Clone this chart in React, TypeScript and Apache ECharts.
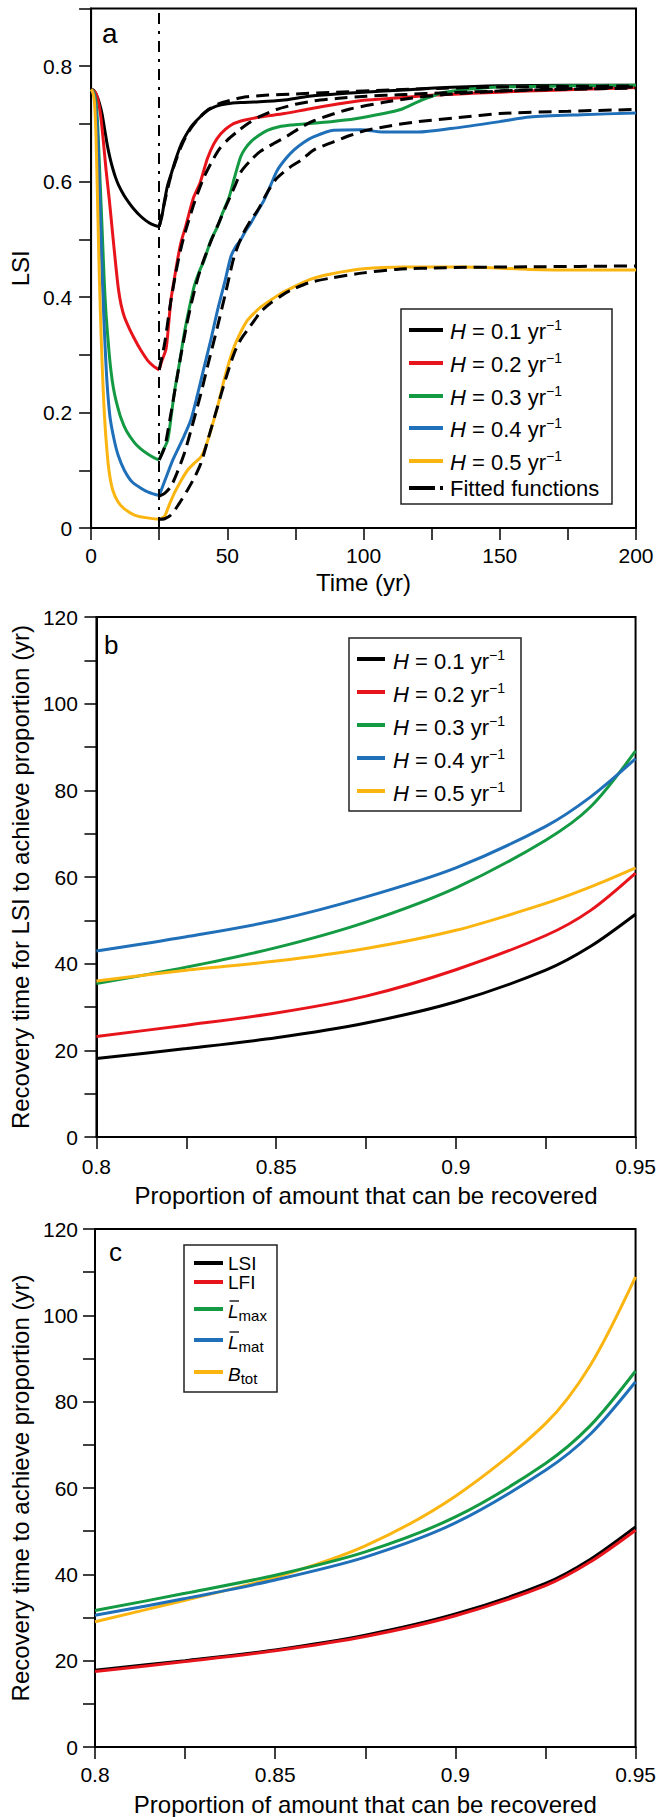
import { useEffect, useRef } from 'react';
import * as echarts from 'echarts';

const FONT = '"Liberation Sans", Arial, Helvetica, sans-serif';
const C_BLACK = '#000000';
const C_RED = '#e8141c';
const C_GREEN = '#139a43';
const C_BLUE = '#1f6fb9';
const C_YELLOW = '#fbb511';
const H_COLORS = [C_BLACK, C_RED, C_GREEN, C_BLUE, C_YELLOW];

// ---------- Panel a: LSI over time ----------
const timeTicks = ['0', '50', '100', '150', '200'];
const lsiTicks = ['0', '0.2', '0.4', '0.6', '0.8'];
const hValues = ['0.1', '0.2', '0.3', '0.4', '0.5'];
const fishingEnd = 25;

const h01Before = [[0, 0.76], [1, 0.758], [2, 0.75], [3, 0.737], [4, 0.718], [5, 0.69], [6, 0.662], [7, 0.64], [8, 0.622], [9, 0.607], [10, 0.595], [12, 0.577], [14, 0.563], [16, 0.551], [18, 0.541], [20, 0.533], [22, 0.527], [25, 0.522]];
const h01After = [[25, 0.522], [26, 0.54], [27, 0.568], [28, 0.592], [29.5, 0.615], [31, 0.638], [33, 0.664], [35, 0.682], [37, 0.697], [40, 0.712], [43, 0.724], [46, 0.731], [50, 0.735], [55, 0.737], [60, 0.738], [70, 0.741], [80, 0.748], [90, 0.752], [100, 0.755], [115, 0.759], [130, 0.763], [150, 0.766], [175, 0.767], [200, 0.767]];
const h01Fit = [[25, 0.522], [27, 0.565], [29, 0.605], [31, 0.635], [33, 0.66], [35, 0.68], [37, 0.695], [40, 0.712], [43, 0.725], [47, 0.735], [52, 0.742], [57, 0.747], [65, 0.75], [75, 0.752], [90, 0.755], [110, 0.759], [130, 0.762], [150, 0.764], [175, 0.765], [200, 0.766]];

const h02Before = [[0, 0.76], [1.5, 0.755], [2.5, 0.742], [3.5, 0.715], [4.5, 0.67], [5.5, 0.62], [6.7, 0.568], [7.9, 0.51], [9, 0.458], [10, 0.415], [11, 0.387], [12.2, 0.366], [14, 0.346], [16, 0.327], [18, 0.31], [20.8, 0.29], [23, 0.28], [25, 0.274]];
const h02After = [[25, 0.274], [26, 0.29], [27.5, 0.31], [28.5, 0.355], [29.3, 0.395], [30.5, 0.43], [31.7, 0.464], [33, 0.495], [34.8, 0.524], [37.5, 0.571], [40, 0.598], [42.7, 0.64], [45, 0.665], [47.6, 0.683], [51, 0.697], [55, 0.705], [62, 0.712], [71, 0.718], [80, 0.726], [90, 0.734], [100, 0.741], [112, 0.745], [126, 0.75], [140, 0.753], [160, 0.757], [180, 0.76], [200, 0.763]];
const h02Fit = [[25, 0.274], [27, 0.32], [29, 0.385], [31, 0.44], [33, 0.485], [35, 0.52], [38, 0.565], [41, 0.603], [44, 0.632], [47, 0.656], [50, 0.672], [54, 0.688], [58, 0.702], [62, 0.713], [68, 0.725], [75, 0.734], [82, 0.74], [90, 0.744], [101, 0.748], [115, 0.751], [130, 0.754], [150, 0.757], [175, 0.76], [200, 0.762]];

const h03Before = [[0, 0.76], [1, 0.755], [1.8, 0.738], [2.5, 0.69], [3.4, 0.59], [4.2, 0.5], [4.9, 0.42], [5.5, 0.37], [6.5, 0.31], [7.3, 0.272], [8.2, 0.242], [9.2, 0.22], [11, 0.19], [13, 0.168], [15.9, 0.148], [18, 0.138], [20.8, 0.128], [23, 0.122], [25, 0.118]];
const h03After = [[25, 0.118], [26.5, 0.135], [28.1, 0.152], [29.3, 0.19], [30.5, 0.233], [32.4, 0.285], [34.2, 0.337], [36, 0.38], [37.8, 0.418], [39.6, 0.443], [41.5, 0.464], [44, 0.499], [46.4, 0.522], [48.2, 0.545], [50.7, 0.574], [52.8, 0.61], [54.9, 0.643], [56.5, 0.657], [58.6, 0.669], [61.5, 0.68], [64.7, 0.689], [69, 0.695], [73.3, 0.698], [78, 0.7], [88, 0.704], [97, 0.709], [107.4, 0.718], [113.6, 0.725], [119.7, 0.738], [124, 0.746], [128.2, 0.753], [133, 0.757], [138, 0.76], [150, 0.764], [175, 0.766], [200, 0.767]];
const h03Fit = [[25, 0.118], [27, 0.14], [29, 0.19], [31, 0.245], [33, 0.3], [35, 0.35], [37, 0.393], [39, 0.43], [41, 0.46], [44, 0.497], [47, 0.53], [50, 0.563], [53, 0.595], [55, 0.617], [58.6, 0.637], [62, 0.652], [67, 0.666], [72, 0.679], [77, 0.694], [82, 0.706], [88, 0.716], [95, 0.726], [107, 0.737], [118, 0.745], [130, 0.751], [150, 0.757], [175, 0.761], [200, 0.764]];

const h04Before = [[0, 0.76], [1, 0.752], [1.8, 0.725], [2.4, 0.68], [3, 0.6], [3.7, 0.49], [4.3, 0.41], [4.9, 0.34], [5.5, 0.28], [6.1, 0.235], [7, 0.19], [8.5, 0.152], [10, 0.125], [12.2, 0.1], [15, 0.08], [18.3, 0.069], [21, 0.062], [25, 0.056]];
const h04After = [[25, 0.056], [26.5, 0.075], [28.1, 0.095], [30, 0.118], [31.7, 0.135], [34, 0.158], [36.6, 0.187], [39, 0.23], [41.5, 0.279], [44, 0.327], [46.4, 0.377], [49, 0.425], [51.3, 0.47], [53, 0.487], [54.9, 0.499], [56.5, 0.513], [58.6, 0.528], [61, 0.548], [63.5, 0.568], [66, 0.595], [68.4, 0.62], [71.5, 0.64], [74.5, 0.655], [78, 0.668], [81.8, 0.678], [89, 0.689], [99, 0.69], [107, 0.686], [120, 0.686], [132, 0.692], [150, 0.704], [161, 0.712], [180, 0.716], [200, 0.719]];
const h04Fit = [[25, 0.055], [27, 0.06], [29.3, 0.072], [31.5, 0.095], [34.2, 0.129], [37, 0.175], [40.3, 0.233], [43, 0.285], [46.4, 0.349], [49.5, 0.41], [52.5, 0.47], [55.5, 0.507], [58.6, 0.533], [61.5, 0.553], [64.5, 0.58], [68, 0.605], [73.3, 0.626], [77, 0.637], [81.8, 0.655], [89, 0.669], [95, 0.68], [101, 0.689], [110, 0.697], [120, 0.704], [135, 0.711], [150, 0.718], [175, 0.722], [200, 0.725]];

const h05Before = [[0, 0.76], [0.6, 0.755], [1.2, 0.74], [1.8, 0.68], [2.4, 0.56], [3, 0.44], [3.7, 0.33], [4.3, 0.255], [4.9, 0.195], [5.8, 0.135], [6.7, 0.095], [8, 0.065], [9.8, 0.046], [12, 0.034], [15.9, 0.0225], [20, 0.018], [25, 0.015]];
const h05After = [[25, 0.015], [26.9, 0.02], [28.5, 0.038], [30.5, 0.06], [33, 0.082], [35.4, 0.1], [38, 0.113], [40.3, 0.123], [42, 0.14], [44, 0.17], [46.5, 0.212], [48.8, 0.256], [50.5, 0.285], [52.5, 0.314], [55, 0.34], [57.4, 0.36], [60, 0.373], [62.3, 0.383], [66, 0.395], [70, 0.407], [73.3, 0.415], [80, 0.43], [88, 0.44], [100, 0.449], [115, 0.452], [137, 0.452], [161, 0.448], [180, 0.447], [200, 0.447]];
const h05Fit = [[25, 0.015], [27, 0.016], [29.3, 0.0225], [32, 0.04], [35.4, 0.066], [38, 0.088], [40.3, 0.112], [43, 0.155], [46.4, 0.21], [49.5, 0.26], [52.5, 0.3025], [55, 0.327], [57.4, 0.343], [60, 0.36], [62.3, 0.375], [66, 0.39], [70, 0.403], [73.3, 0.412], [80, 0.425], [88, 0.433], [100, 0.442], [112, 0.448], [130, 0.451], [161, 0.4525], [200, 0.454]];

const beforeSets = [h01Before, h02Before, h03Before, h04Before, h05Before];
const afterSets = [h01After, h02After, h03After, h04After, h05After];
const fitSets = [h01Fit, h02Fit, h03Fit, h04Fit, h05Fit];

// ---------- Panels b and c: recovery times ----------
const proportion = [0.8, 0.825, 0.85, 0.875, 0.9, 0.925, 0.9375, 0.95];
const propTicks = ['0.8', '0.85', '0.9', '0.95'];
const recTicks = ['0', '20', '40', '60', '80', '100', '120'];

const recH01 = [18.1, 20.4, 22.9, 26.3, 31.2, 38.5, 44.0, 51.4];
const recH02 = [23.2, 25.8, 28.6, 32.5, 38.6, 46.5, 52.3, 60.9];
const recH03 = [35.4, 39.2, 43.7, 49.6, 57.5, 68.5, 76.2, 89.1];
const recH04 = [42.9, 46.2, 50.0, 55.4, 62.1, 71.7, 78.5, 87.3];
const recH05 = [36.0, 38.5, 40.6, 43.5, 47.7, 53.9, 57.7, 62.1];
const recBSets = [recH01, recH02, recH03, recH04, recH05];

const recLSI = [17.8, 20.0, 22.5, 25.9, 30.8, 37.9, 43.5, 51.0];
const recLFI = [17.5, 19.8, 22.3, 25.6, 30.4, 37.4, 42.9, 50.2];
const recLmax = [31.6, 35.6, 39.8, 45.2, 53.3, 65.7, 74.5, 87.1];
const recLmat = [30.5, 34.4, 38.7, 44.0, 51.9, 64.1, 72.5, 84.6];
const recBtot = [29.0, 34.0, 39.3, 46.6, 58.1, 74.9, 88.5, 108.9];
const indicatorNames = ['LSI', 'LFI', 'L̄max', 'L̄mat', 'Btot'];
const recCSets = [recLSI, recLFI, recLmax, recLmat, recBtot];

const zip = (xs: number[], ys: number[]) => xs.map((x, i) => [x, ys[i]]);

function lineSeries(name: string, data: number[][], color: string, idx: number, smooth: number, dash?: number[], z = 2): any {
  return {
    type: 'line',
    name,
    xAxisIndex: idx,
    yAxisIndex: idx,
    data,
    showSymbol: false,
    symbol: 'none',
    smooth,
    silent: true,
    z,
    lineStyle: { color, width: 3, type: dash ? dash : 'solid', cap: 'butt' },
    itemStyle: { color },
    emphasis: { disabled: true },
  };
}

const axisBase = (idx: number) => ({
  gridIndex: idx,
  type: 'value',
  axisLine: { show: true, onZero: false, lineStyle: { color: '#000', width: 2 } },
  axisTick: { show: true, inside: false, length: 12, lineStyle: { color: '#000', width: 1.5 } },
  splitLine: { show: false },
  nameLocation: 'middle',
  nameTextStyle: { fontSize: 24, color: '#000', fontFamily: FONT },
});

const labelStyle = (margin: number) => ({ margin, fontSize: 21, color: '#000', fontFamily: FONT });

function legendRows(rows: { y: number; color: string; dash?: number[]; text: string; dy?: number; bar?: boolean }[], x1: number, x2: number, tx: number, rich: any, base: number): any[] {
  const out: any[] = [];
  rows.forEach((r) => {
    out.push({
      type: 'line',
      z: 101,
      shape: { x1, y1: r.y, x2, y2: r.y },
      style: { stroke: r.color, lineWidth: 4, lineDash: r.dash || null },
    });
    out.push({
      type: 'text',
      z: 101,
      x: tx,
      y: r.y + (r.dy || 0),
      style: { text: r.text, rich, fontSize: base, fontFamily: FONT, fill: '#000', align: 'left', verticalAlign: 'middle' },
    });
    if (r.bar) {
      const yb = r.y + (r.dy || 0) - 10;
      out.push({
        type: 'line',
        z: 101,
        shape: { x1: tx + 1.5, y1: yb, x2: tx + 11, y2: yb },
        style: { stroke: '#000', lineWidth: 1.3 },
      });
    }
  });
  return out;
}

export default function App() {
  const ref = useRef<HTMLDivElement>(null);
  useEffect(() => {
    if (!ref.current) return;
    const chart = echarts.init(ref.current, undefined, { renderer: 'svg' });

    const series: any[] = [];
    // Panel a
    beforeSets.forEach((d, i) => {
      const s = lineSeries(`H = ${hValues[i]} yr−1`, d, H_COLORS[i], 0, 0.25);
      if (i === 0) {
        s.markLine = {
          silent: true,
          symbol: ['none', 'none'],
          label: { show: false },
          lineStyle: { color: '#000', width: 2, type: [11, 7, 3, 7] },
          data: [{ xAxis: fishingEnd }],
          animation: false,
        };
      }
      series.push(s);
    });
    afterSets.forEach((d, i) => series.push(lineSeries(`H = ${hValues[i]} yr−1`, d, H_COLORS[i], 0, 0.25)));
    fitSets.forEach((d) => series.push(lineSeries('Fitted functions', d, C_BLACK, 0, 0.25, [13, 7], 3)));
    // Panel b
    recBSets.forEach((d, i) => series.push(lineSeries(`H = ${hValues[i]} yr−1 `, zip(proportion, d), H_COLORS[i], 1, 0.3)));
    // Panel c
    [4, 3, 2, 0, 1].forEach((i) => series.push(lineSeries(indicatorNames[i], zip(proportion, recCSets[i]), H_COLORS[i], 2, 0.3)));

    const richH = {
      i: { fontStyle: 'italic', fontSize: 22, fontFamily: FONT, lineHeight: 26, fill: '#000' },
      n: { fontSize: 22, fontFamily: FONT, lineHeight: 26, fill: '#000' },
      sup: { fontSize: 14, fontFamily: FONT, lineHeight: 14, verticalAlign: 'top', fill: '#000' },
    };
    const richC = {
      i: { fontStyle: 'italic', fontSize: 19, fontFamily: FONT, lineHeight: 24, fill: '#000' },
      n: { fontSize: 19, fontFamily: FONT, lineHeight: 24, fill: '#000' },
      sub: { fontSize: 15, fontFamily: FONT, lineHeight: 13, verticalAlign: 'bottom', fill: '#000' },
    };

    const aRowsY = [330, 363, 396, 428, 461];
    const bRowsY = [659, 692, 725, 758, 791];
    const hText = (v: string) => `{i|H}{n| = ${v} yr}{sup|−1}`;

    const graphic: any[] = [
      { type: 'text', z: 101, x: 102, y: 33, style: { text: 'a', fontSize: 28, fontFamily: FONT, fill: '#000', verticalAlign: 'middle' } },
      { type: 'text', z: 101, x: 104, y: 645, style: { text: 'b', fontSize: 26, fontFamily: FONT, fill: '#000', verticalAlign: 'middle' } },
      { type: 'text', z: 101, x: 109, y: 1252, style: { text: 'c', fontSize: 26, fontFamily: FONT, fill: '#000', verticalAlign: 'middle' } },
      // legend a
      { type: 'rect', z: 100, shape: { x: 401, y: 309, width: 211, height: 195 }, style: { fill: '#fff', stroke: '#222', lineWidth: 1.5 } },
      ...legendRows(
        [
          ...aRowsY.map((y, i) => ({ y, color: H_COLORS[i], text: hText(hValues[i]), dy: 1 })),
          { y: 488, color: C_BLACK, dash: [26, 5], text: '{n|Fitted functions}', dy: 0 },
        ],
        409, 443, 450, richH, 22),
      // legend b
      { type: 'rect', z: 100, shape: { x: 349, y: 638, width: 172, height: 173 }, style: { fill: '#fff', stroke: '#222', lineWidth: 1.5 } },
      ...legendRows(bRowsY.map((y, i) => ({ y, color: H_COLORS[i], text: hText(hValues[i]), dy: 2 })), 357, 385, 393, richH, 22),
      // legend c
      { type: 'rect', z: 100, shape: { x: 184, y: 1245, width: 93, height: 147 }, style: { fill: '#fff', stroke: '#222', lineWidth: 1.5 } },
      ...legendRows(
        [
          { y: 1263, color: C_BLACK, text: '{n|LSI}', dy: 0 },
          { y: 1282, color: C_RED, text: '{n|LFI}', dy: 0 },
          { y: 1309, color: C_GREEN, text: '{i|L}{sub|max}', dy: 2, bar: true },
          { y: 1340, color: C_BLUE, text: '{i|L}{sub|mat}', dy: 2, bar: true },
          { y: 1372, color: C_YELLOW, text: '{i|B}{sub|tot}', dy: 2 },
        ],
        194, 223, 228, richC, 19),
    ];

    const option: any = {
      animation: false,
      backgroundColor: '#fff',
      grid: [
        { left: 90, top: 8.5, width: 546, height: 519.5, show: true, borderColor: '#000', borderWidth: 2, backgroundColor: 'transparent' },
        { left: 90, top: 617, width: 547, height: 520, show: true, borderColor: '#000', borderWidth: 2, backgroundColor: 'transparent' },
        { left: 95, top: 1229, width: 546, height: 518, show: true, borderColor: '#000', borderWidth: 2, backgroundColor: 'transparent' },
      ],
      xAxis: [
        {
          ...axisBase(0), min: 0, max: 200, interval: 25, name: 'Time (yr)', nameGap: 42,
          axisLabel: { ...labelStyle(17), formatter: (v: number) => { const k = Math.round(v / 25); return k % 2 === 0 ? timeTicks[k / 2] : ''; } },
        },
        {
          ...axisBase(1), min: 0.8, max: 0.95, interval: 0.025, name: 'Proportion of amount that can be recovered', nameGap: 46,
          axisLabel: { ...labelStyle(19), formatter: (v: number) => { const k = Math.round((v - 0.8) / 0.025); return k % 2 === 0 ? propTicks[k / 2] : ''; } },
        },
        {
          ...axisBase(2), min: 0.8, max: 0.95, interval: 0.025, name: 'Proportion of amount that can be recovered', nameGap: 45,
          axisLabel: { ...labelStyle(17), formatter: (v: number) => { const k = Math.round((v - 0.8) / 0.025); return k % 2 === 0 ? propTicks[k / 2] : ''; } },
        },
      ],
      yAxis: [
        {
          ...axisBase(0), min: 0, max: 0.9, interval: 0.1, name: 'LSI', nameGap: 58, nameRotate: 90,
          axisLabel: { ...labelStyle(19), formatter: (v: number) => { const k = Math.round(v * 10); return k % 2 === 0 && k / 2 < lsiTicks.length ? lsiTicks[k / 2] : ''; } },
        },
        {
          ...axisBase(1), min: 0, max: 120, interval: 10, name: 'Recovery time for LSI to achieve proportion (yr)', nameGap: 58, nameRotate: 90,
          axisLabel: { ...labelStyle(18.5), formatter: (v: number) => { const k = Math.round(v / 10); return k % 2 === 0 ? recTicks[k / 2] : ''; } },
        },
        {
          ...axisBase(2), min: 0, max: 120, interval: 10, name: 'Recovery time to achieve proportion (yr)', nameGap: 62, nameRotate: 90,
          axisLabel: { ...labelStyle(17), formatter: (v: number) => { const k = Math.round(v / 10); return k % 2 === 0 ? recTicks[k / 2] : ''; } },
        },
      ],
      series,
      graphic,
    };
    chart.setOption(option);
    return () => chart.dispose();
  }, []);

  return <div ref={ref} style={{ position: 'absolute', left: 0, top: 0, width: 659, height: 1817, background: '#fff' }} />;
}
